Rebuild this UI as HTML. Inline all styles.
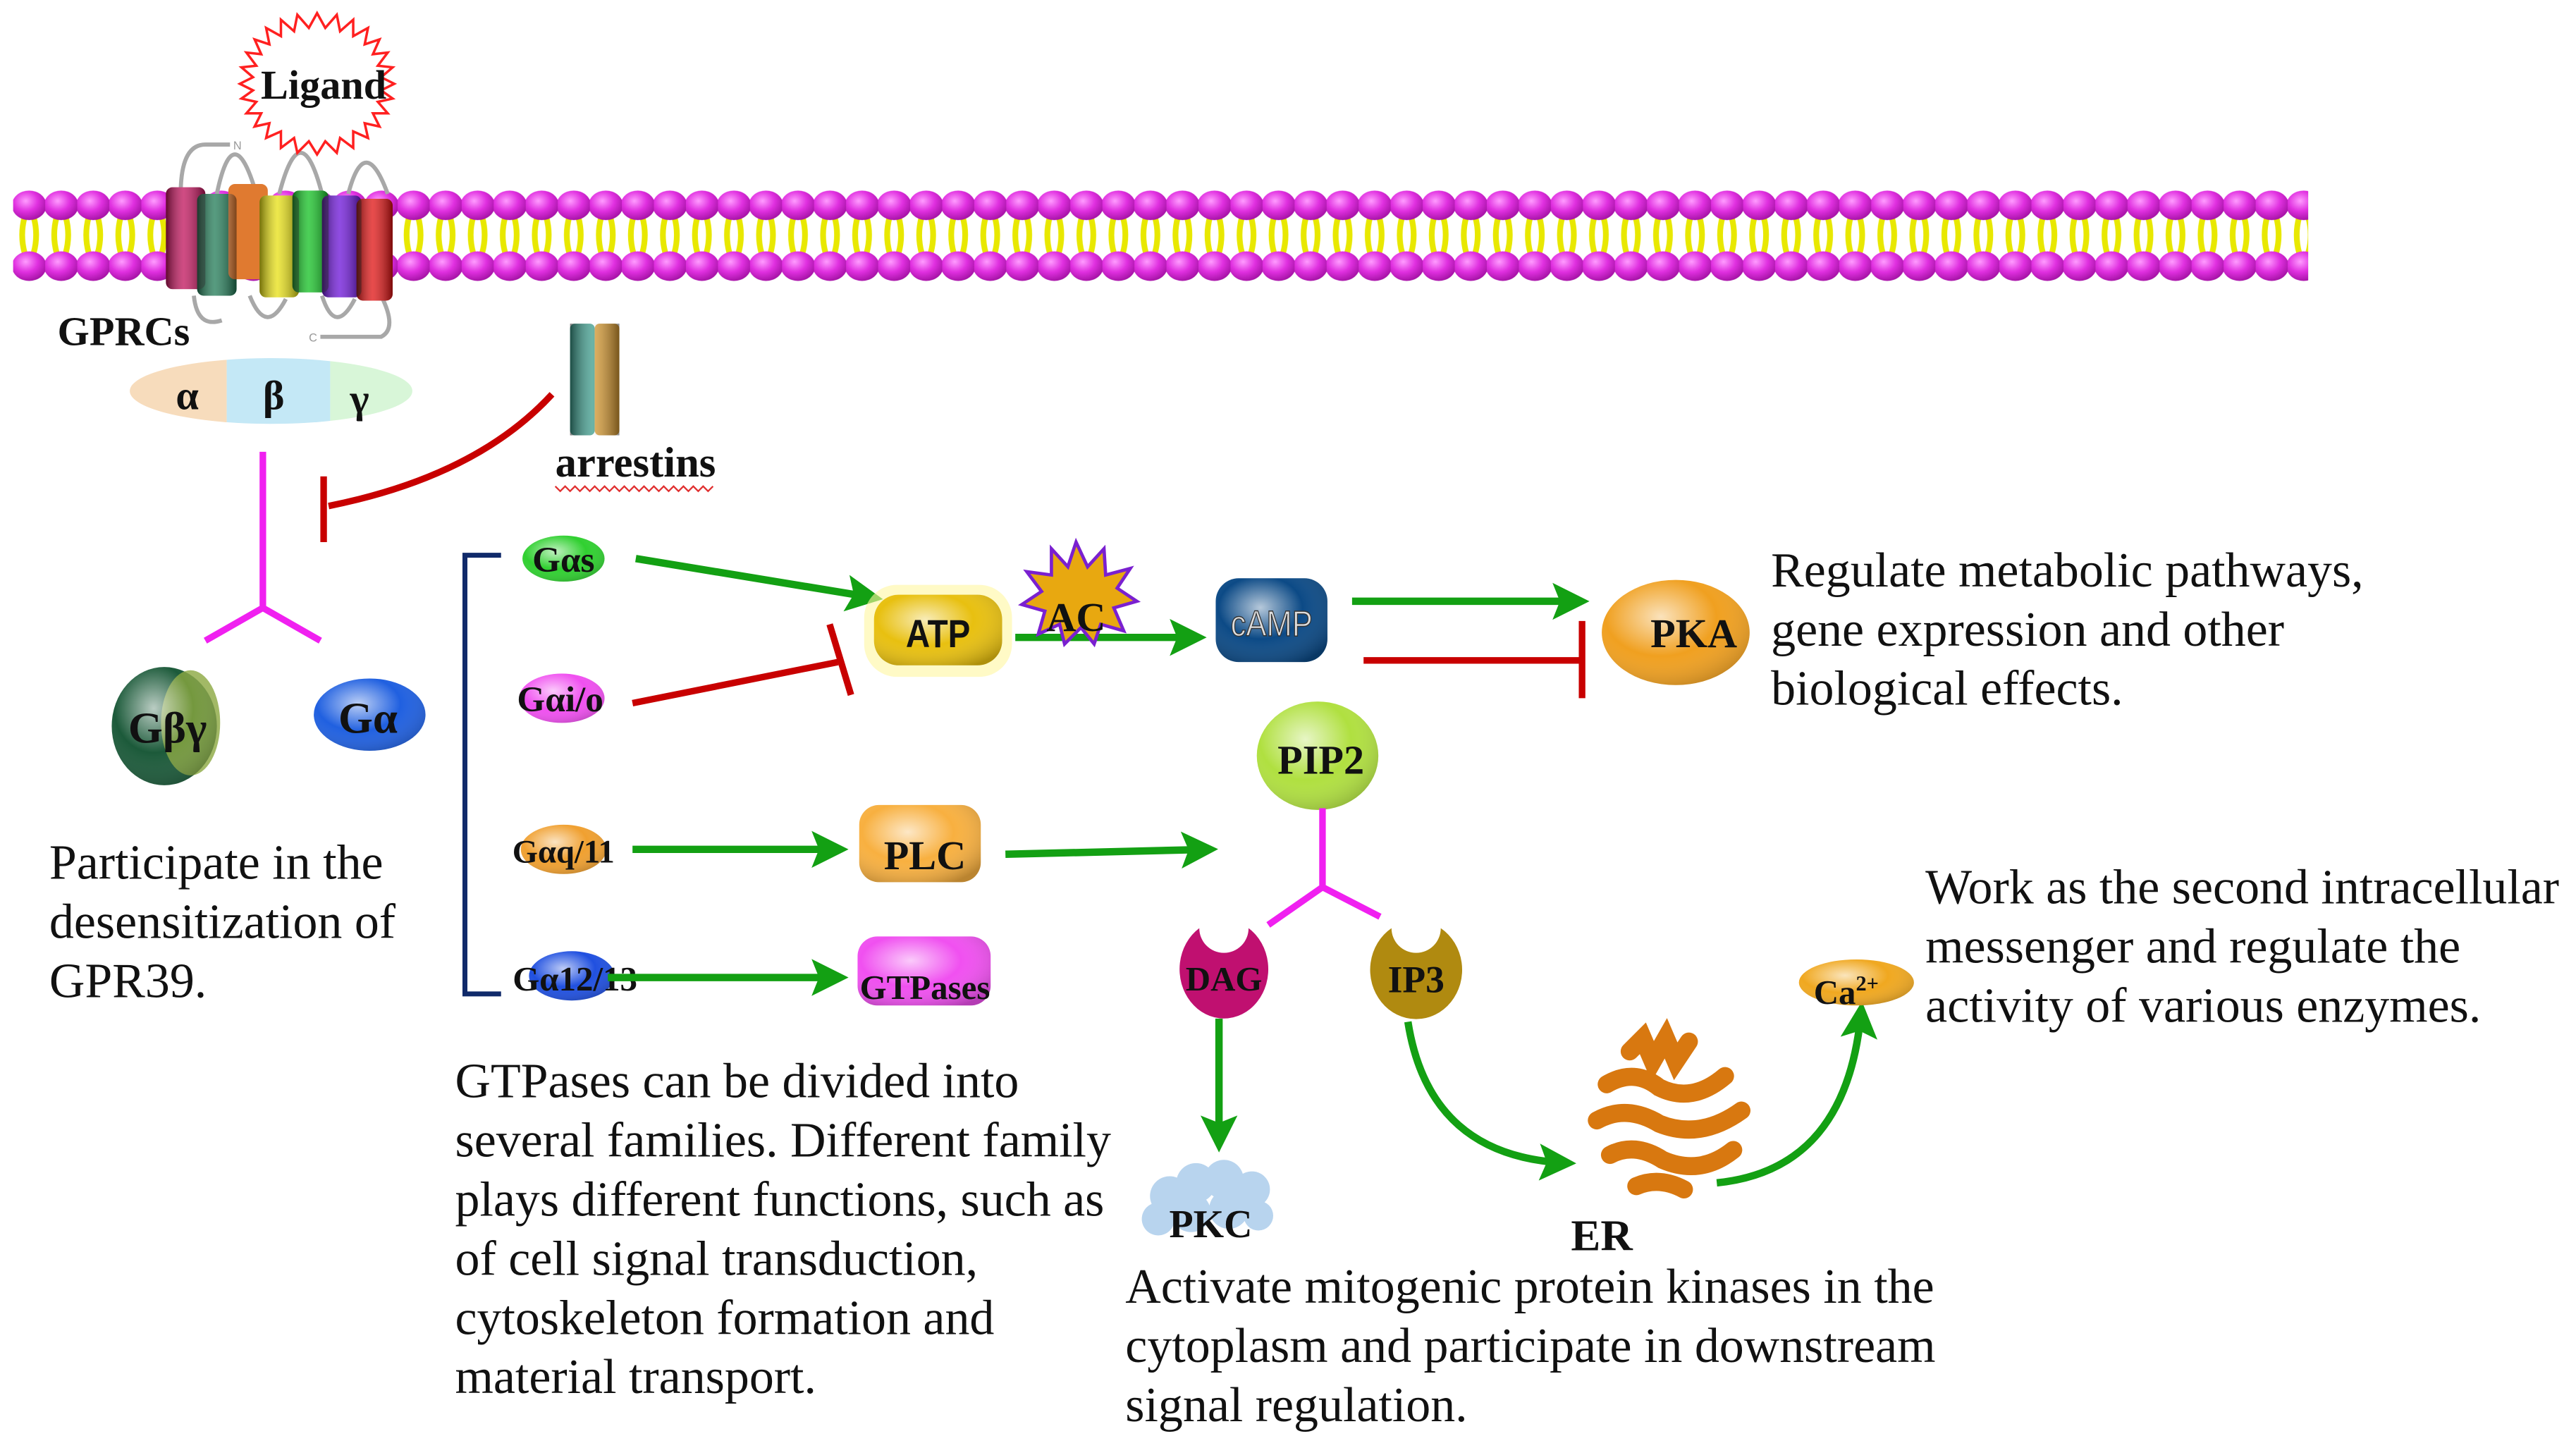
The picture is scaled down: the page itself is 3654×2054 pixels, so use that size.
<!DOCTYPE html>
<html><head><meta charset="utf-8"><style>
html,body{margin:0;padding:0;background:#fff;}
svg{display:block;}
.t{font-family:"Liberation Serif",serif;font-size:30px;fill:#111;}
.b{font-family:"Liberation Serif",serif;font-weight:bold;fill:#111;}
</style></head><body>
<svg width="3654" height="2054" viewBox="0 0 1568 881.4" preserveAspectRatio="none" xmlns="http://www.w3.org/2000/svg">
<defs>
<radialGradient id="head" cx="0.4" cy="0.35" r="0.7"><stop offset="0" stop-color="#ff9cff"/><stop offset="0.5" stop-color="#e030e0"/><stop offset="1" stop-color="#a010a0"/></radialGradient>
<pattern id="mem" x="8" y="0" width="19.5" height="200" patternUnits="userSpaceOnUse">
<path d="M7 132 Q4 143 7 154 M12.5 132 Q15.5 143 12.5 154" stroke="#e8e800" stroke-width="3.5" fill="none"/>
<ellipse cx="9.75" cy="125" rx="10.5" ry="9" fill="url(#head)"/>
<ellipse cx="9.75" cy="162" rx="10.5" ry="9" fill="url(#head)"/>
</pattern>
<marker id="ga" viewBox="0 0 10 10" refX="8" refY="5" markerWidth="5" markerHeight="5" orient="auto" markerUnits="strokeWidth"><path d="M0 0 L10 5 L0 10 L2 5 Z" fill="#13a013"/></marker>
<linearGradient id="cyl" x1="0" x2="1"><stop offset="0" stop-color="#000" stop-opacity=".5"/><stop offset=".45" stop-color="#fff" stop-opacity=".25"/><stop offset="1" stop-color="#000" stop-opacity=".45"/></linearGradient>
<radialGradient id="gl" cx=".4" cy=".35" r=".75"><stop offset="0" stop-color="#fff" stop-opacity=".7"/><stop offset=".5" stop-color="#fff" stop-opacity="0"/><stop offset="1" stop-color="#000" stop-opacity=".25"/></radialGradient>
</defs>
<rect width="1568" height="881.4" fill="#fff"/>
<rect x="8" y="110" width="1397" height="65" fill="url(#mem)"/>
<g stroke="#a8a8a8" stroke-width="2.5" fill="none">
<path d="M110 118 Q110 88 125 88 L140 88"/>
<path d="M132 118 Q142 70 156 118"/><path d="M170 118 Q183 68 196 118"/><path d="M212 118 Q222 80 236 118"/>
<path d="M118 180 Q120 200 135 195"/><path d="M152 180 Q162 205 174 182"/><path d="M196 180 Q204 205 216 182"/><path d="M232 180 Q242 200 232 205 L195 205"/>
</g>
<text x="142" y="91" font-family="Liberation Sans" font-size="7" fill="#999">N</text>
<text x="188" y="208" font-family="Liberation Sans" font-size="7" fill="#999">C</text>
<g>
<rect x="101" y="114" width="24" height="62" rx="4" fill="#c0105a"/>
<rect x="120" y="118" width="24" height="62" rx="4" fill="#1f7a55"/>
<rect x="139" y="112" width="24" height="58" rx="4" fill="#e07a30"/>
<rect x="158" y="119" width="24" height="62" rx="4" fill="#e8e010"/>
<rect x="178" y="116" width="22" height="62" rx="4" fill="#10c020"/>
<rect x="196" y="119" width="24" height="62" rx="4" fill="#6a10d8"/>
<rect x="217" y="121" width="22" height="62" rx="4" fill="#e01010"/>
<g fill="url(#cyl)"><rect x="101" y="114" width="24" height="62" rx="4"/><rect x="120" y="118" width="24" height="62" rx="4"/><rect x="158" y="119" width="24" height="62" rx="4"/><rect x="178" y="116" width="22" height="62" rx="4"/><rect x="196" y="119" width="24" height="62" rx="4"/><rect x="217" y="121" width="22" height="62" rx="4"/></g>
</g>
<polygon fill="#fff" stroke="#ff2020" stroke-width="1.5" points="193,8 198,17 205,9 207,19 215,12 215,22 224,17 222,27 231,24 227,33 236,32 230,40 239,41 232,47 240,51 232,55 239,60 230,62 236,69 227,69 231,77 222,75 224,84 215,80 215,90 207,84 205,93 198,86 193,94 188,86 181,93 179,84 171,90 171,80 162,84 164,75 155,77 159,69 150,69 156,62 147,60 154,55 146,51 154,47 147,41 156,40 150,32 159,33 155,24 164,27 162,17 171,22 171,12 179,19 181,9 188,17"/>
<text x="197" y="60" text-anchor="middle" class="b" font-size="25">Ligand</text>
<text x="35" y="210" class="b" font-size="25">GPRCs</text>
<clipPath id="ec"><ellipse cx="165" cy="238" rx="86" ry="20"/></clipPath>
<g clip-path="url(#ec)"><rect x="78" y="215" width="60" height="50" fill="#f7dcbc"/><rect x="138" y="215" width="63" height="50" fill="#c4e8f6"/><rect x="201" y="215" width="55" height="50" fill="#d8f6d8"/></g>
<text x="107" y="249" class="b" font-size="25">α</text><text x="160" y="249" class="b" font-size="25">β</text><text x="213" y="251" class="b" font-size="25">γ</text>
<rect x="347" y="197" width="15" height="68" rx="3" fill="#3a9a8a"/><rect x="362" y="197" width="15" height="68" rx="3" fill="#d89a30"/>
<rect x="347" y="197" width="30" height="68" fill="url(#cyl)"/>
<text x="338" y="290" class="b" font-size="26">arrestins</text>
<path d="M338 296 l3 3 l3 -3 l3 3 l3 -3 l3 3 l3 -3 l3 3 l3 -3 l3 3 l3 -3 l3 3 l3 -3 l3 3 l3 -3 l3 3 l3 -3 l3 3 l3 -3 l3 3 l3 -3 l3 3 l3 -3 l3 3 l3 -3 l3 3 l3 -3 l3 3 l3 -3 l3 3 l3 -3 l3 3 l3 -3" stroke="#e03030" stroke-width="1" fill="none"/>
<path d="M336 240 Q290 290 200 308" stroke="#c80000" stroke-width="4" fill="none"/>
<line x1="197" y1="290" x2="197" y2="330" stroke="#c80000" stroke-width="4"/>
<path d="M160 275 L160 370 M125 390 L160 370 L195 390" stroke="#f020f0" stroke-width="4" fill="none"/>
<ellipse cx="100" cy="442" rx="32" ry="36" fill="#1c5a3a"/><ellipse cx="116" cy="440" rx="18" ry="32" fill="#8ba840" opacity=".8"/>
<ellipse cx="100" cy="442" rx="32" ry="36" fill="url(#gl)"/>
<text x="102" y="452" text-anchor="middle" class="b" font-size="27">Gβγ</text>
<ellipse cx="225" cy="435" rx="34" ry="22" fill="#2060e0"/><ellipse cx="225" cy="435" rx="34" ry="22" fill="url(#gl)"/>
<text x="224" y="446" text-anchor="middle" class="b" font-size="27">Gα</text>
<text class="t" x="30" y="535">Participate in the</text>
<text class="t" x="30" y="571">desensitization of</text>
<text class="t" x="30" y="607">GPR39.</text>
<path d="M305 338 L283 338 L283 605 L305 605" stroke="#102a6a" stroke-width="3" fill="none"/>
<ellipse cx="343" cy="340" rx="25" ry="14" fill="#30d030"/><ellipse cx="343" cy="340" rx="25" ry="14" fill="url(#gl)"/>
<text x="343" y="348" text-anchor="middle" class="b" font-size="22">Gαs</text>
<ellipse cx="342" cy="425" rx="26" ry="15" fill="#f050f0"/><ellipse cx="342" cy="425" rx="26" ry="15" fill="url(#gl)"/>
<text x="341" y="433" text-anchor="middle" class="b" font-size="22">Gαi/o</text>
<ellipse cx="343" cy="517" rx="26" ry="15" fill="#f0a030"/><ellipse cx="343" cy="517" rx="26" ry="15" fill="url(#gl)"/>
<text x="343" y="525" text-anchor="middle" class="b" font-size="20">Gαq/11</text>
<ellipse cx="348" cy="594" rx="26" ry="15" fill="#2050e0"/><ellipse cx="348" cy="594" rx="26" ry="15" fill="url(#gl)"/>
<text x="350" y="603" text-anchor="middle" class="b" font-size="21">Gα12/13</text>
<g stroke="#13a013" stroke-width="4.5" fill="none" marker-end="url(#ga)">
<line x1="387" y1="340" x2="533" y2="364"/>
<line x1="618" y1="388" x2="730" y2="388"/>
<line x1="823" y1="366" x2="963" y2="366"/>
<line x1="385" y1="517" x2="512" y2="517"/>
<line x1="612" y1="520" x2="737" y2="517"/>
<line x1="370" y1="595" x2="512" y2="595"/>
<line x1="742" y1="620" x2="742" y2="697"/>
<path d="M857 622 Q870 705 955 708"/>
<path d="M1045 720 Q1125 712 1133 614"/>
</g>
<g stroke="#c80000" stroke-width="4" fill="none">
<line x1="385" y1="428" x2="510" y2="403"/><line x1="505" y1="380" x2="518" y2="423"/>
<line x1="830" y1="402" x2="963" y2="402"/><line x1="963" y1="378" x2="963" y2="425"/>
</g>
<rect x="526" y="356" width="90" height="56" rx="20" fill="#fff6a0" opacity=".6"/>
<rect x="532" y="362" width="78" height="43" rx="15" fill="#e8c010"/><rect x="532" y="362" width="78" height="43" rx="15" fill="url(#gl)"/>
<text x="571" y="394" text-anchor="middle" font-family="Liberation Sans" font-weight="bold" font-size="24" fill="#111" transform="translate(571 0) scale(0.85 1) translate(-571 0)">ATP</text>
<polygon fill="#e8a810" stroke="#7a20d0" stroke-width="2" points="655,330 662,345 672,334 673,350 688,346 680,358 692,366 678,370 684,384 670,380 666,392 658,382 648,392 645,380 632,386 636,372 622,368 634,360 625,348 640,350 640,334 650,345"/>
<text x="655" y="384" text-anchor="middle" class="b" font-size="25">AC</text>
<rect x="740" y="352" width="68" height="51" rx="14" fill="#0c4a86"/><rect x="740" y="352" width="68" height="51" rx="14" fill="url(#gl)"/>
<text x="774" y="387" text-anchor="middle" font-family="Liberation Sans" font-size="22" fill="#ddd" stroke="#333" stroke-width=".6" transform="translate(774 0) scale(0.85 1) translate(-774 0)">cAMP</text>
<ellipse cx="1020" cy="385" rx="45" ry="32" fill="#f0a020"/><ellipse cx="1020" cy="385" rx="45" ry="32" fill="url(#gl)"/>
<text x="1031" y="394" text-anchor="middle" class="b" font-size="25">PKA</text>
<text class="t" x="1078" y="357">Regulate metabolic pathways,</text>
<text class="t" x="1078" y="393">gene expression and other</text>
<text class="t" x="1078" y="429">biological effects.</text>
<ellipse cx="802" cy="460" rx="37" ry="33" fill="#b0e040"/><ellipse cx="802" cy="460" rx="37" ry="33" fill="url(#gl)"/>
<text x="804" y="471" text-anchor="middle" class="b" font-size="25">PIP2</text>
<path d="M805 492 L805 540 M772 563 L805 540 L840 558" stroke="#f020f0" stroke-width="4" fill="none"/>
<rect x="523" y="490" width="74" height="47" rx="12" fill="#f8b040"/><rect x="523" y="490" width="74" height="47" rx="12" fill="url(#gl)"/>
<text x="563" y="529" text-anchor="middle" class="b" font-size="25">PLC</text>
<rect x="522" y="570" width="81" height="42" rx="12" fill="#f050f0"/><rect x="522" y="570" width="81" height="42" rx="12" fill="url(#gl)"/>
<text x="563" y="608" text-anchor="middle" class="b" font-size="21">GTPases</text>
<path d="M730 565 A27 30 0 1 0 760 565 A12 12 0 0 1 730 565 Z" fill="#c01070"/>
<text x="745" y="603" text-anchor="middle" class="b" font-size="21">DAG</text>
<path d="M847 565 A28 30 0 1 0 877 565 A12 12 0 0 1 847 565 Z" fill="#b08a10"/>
<text x="862" y="604" text-anchor="middle" class="b" font-size="23">IP3</text>
<g fill="#b8d4ee"><circle cx="712" cy="728" r="12"/><circle cx="728" cy="720" r="12"/><circle cx="745" cy="718" r="12"/><circle cx="762" cy="724" r="11"/><circle cx="705" cy="742" r="10"/><circle cx="725" cy="738" r="12"/><circle cx="748" cy="736" r="12"/><circle cx="766" cy="740" r="9"/></g>
<text x="737" y="753" text-anchor="middle" class="b" font-size="24">PKC</text>
<g stroke="#d87810" stroke-width="11" stroke-linecap="round" fill="none">
<path d="M992 640 L1000 632 L1006 646 L1014 632 L1020 646 L1028 634"/>
<path d="M978 660 Q995 650 1010 662 Q1030 672 1050 655"/>
<path d="M972 682 Q990 672 1010 684 Q1035 694 1060 676"/>
<path d="M980 703 Q995 695 1012 706 Q1035 716 1055 700"/>
<path d="M996 722 Q1010 716 1025 724"/>
</g>
<text x="975" y="761" text-anchor="middle" class="b" font-size="27">ER</text>
<ellipse cx="1130" cy="598" rx="35" ry="14" fill="#f0a820"/><ellipse cx="1130" cy="598" rx="35" ry="14" fill="url(#gl)"/>
<text x="1104" y="611" class="b" font-size="21">Ca<tspan font-size="13" dy="-8">2+</tspan></text>
<text class="t" x="1172" y="550">Work as the second intracellular</text>
<text class="t" x="1172" y="586">messenger and regulate the</text>
<text class="t" x="1172" y="622">activity of various enzymes.</text>
<text class="t" x="277" y="668">GTPases can be divided into</text>
<text class="t" x="277" y="704">several families. Different family</text>
<text class="t" x="277" y="740">plays different functions, such as</text>
<text class="t" x="277" y="776">of cell signal transduction,</text>
<text class="t" x="277" y="812">cytoskeleton formation and</text>
<text class="t" x="277" y="848">material transport.</text>
<text class="t" x="685" y="793">Activate mitogenic protein kinases in the</text>
<text class="t" x="685" y="829">cytoplasm and participate in downstream</text>
<text class="t" x="685" y="865">signal regulation.</text>
</svg>
</body></html>
